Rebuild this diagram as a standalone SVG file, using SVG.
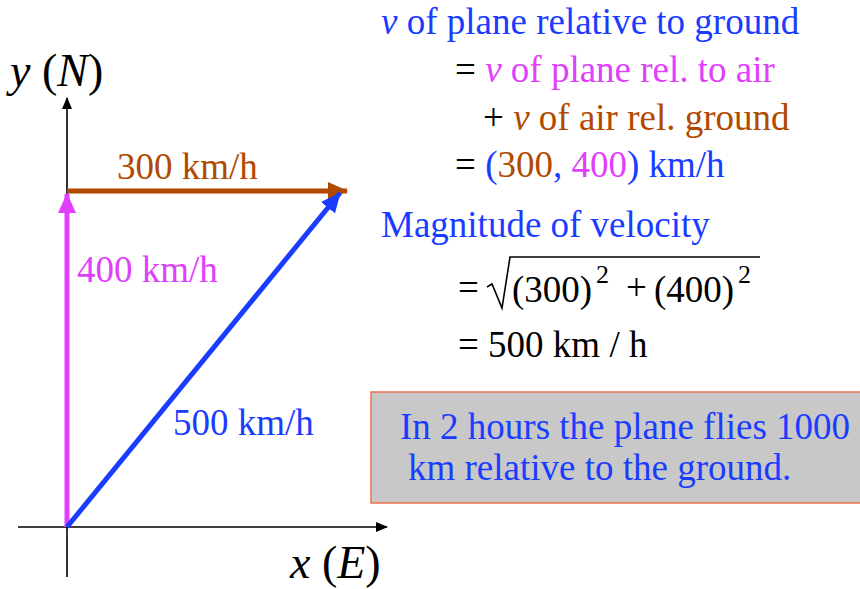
<svg xmlns="http://www.w3.org/2000/svg" width="860" height="589" viewBox="0 0 860 589">
<style>
text{font-family:"Liberation Serif","Times New Roman",serif;font-size:37px}
.blue{fill:#1a3cff}.pink{fill:#e040fb}.brown{fill:#b14a00}.blk{fill:#000}
.it{font-style:italic}
.axis{stroke:#000;stroke-width:1.6;fill:none}
.big{font-size:46px}
</style>
<defs>
<marker id="ah" markerUnits="userSpaceOnUse" markerWidth="12" markerHeight="10" refX="11" refY="5" orient="auto"><path d="M0,0 L12,5 L0,10 Z" fill="#000"/></marker>
<marker id="hp" markerUnits="userSpaceOnUse" markerWidth="20" markerHeight="20" refX="19" refY="10" orient="auto"><path d="M0,1 L20,10 L0,19 Z" fill="#e040fb"/></marker>
<marker id="hb" markerUnits="userSpaceOnUse" markerWidth="20" markerHeight="20" refX="19" refY="10" orient="auto"><path d="M0,1 L20,10 L0,19 Z" fill="#b14a00"/></marker>
<marker id="hl" markerUnits="userSpaceOnUse" markerWidth="20" markerHeight="20" refX="19" refY="10" orient="auto"><path d="M0,1 L20,10 L0,19 Z" fill="#1a3cff"/></marker>
</defs>
<g id="axes">
<line class="axis" x1="67" y1="577" x2="67" y2="98" marker-end="url(#ah)"/>
<line class="axis" x1="18" y1="527" x2="387" y2="527" marker-end="url(#ah)"/>
<text x="10" y="86" class="blk big"><tspan class="it">y</tspan> (<tspan class="it">N</tspan>)</text>
<text x="290" y="578" class="blk big"><tspan class="it">x</tspan> (<tspan class="it">E</tspan>)</text>
</g>
<g id="connectors">
<line x1="67" y1="527" x2="67" y2="194" stroke="#e040fb" stroke-width="5" marker-end="url(#hp)"/>
<line x1="67" y1="191" x2="347" y2="191" stroke="#b14a00" stroke-width="5" marker-end="url(#hb)"/>
<line x1="67" y1="527" x2="340" y2="193" stroke="#1a3cff" stroke-width="5" marker-end="url(#hl)"/>
</g>
<g id="labels">
<text x="117" y="179" class="brown">300 km/h</text>
<text x="77" y="282" class="pink">400 km/h</text>
<text x="173" y="435" class="blue">500 km/h</text>
</g>
<g id="equation">
<text x="381" y="34" class="blue"><tspan class="it">v</tspan> of plane relative to ground</text>
<text x="455" y="82"><tspan class="blk">= </tspan><tspan class="pink"><tspan class="it">v</tspan> of plane rel. to air</tspan></text>
<text x="483" y="130"><tspan class="blk">+ </tspan><tspan class="brown"><tspan class="it">v</tspan> of air rel. ground</tspan></text>
<text x="455" y="177"><tspan class="blk">= </tspan><tspan class="blue">(</tspan><tspan class="brown">300</tspan><tspan class="blue">, </tspan><tspan class="pink">400</tspan><tspan class="blue">) km/h</tspan></text>
</g>
<g id="magnitude">
<text x="381" y="237" class="blue">Magnitude of velocity</text>
<text x="458" y="300" class="blk">=</text>
<path d="M487,287 L492,284 L502,308 L510,257 L760,257" fill="none" stroke="#000" stroke-width="1.6"/>
<text x="512" y="302" class="blk">(300)</text>
<text x="596" y="283" class="blk" style="font-size:26px">2</text>
<text x="626" y="300" class="blk">+</text>
<text x="654" y="302" class="blk">(400)</text>
<text x="738" y="283" class="blk" style="font-size:26px">2</text>
<text x="458" y="357" class="blk">= 500 km / h</text>
</g>
<g id="note">
<rect x="371" y="392" width="495" height="111" fill="#c8c8c8" stroke="#f07050" stroke-width="1.5"/>
<text x="400" y="439" class="blue">In 2 hours the plane flies 1000</text>
<text x="408" y="480" class="blue">km relative to the ground.</text>
</g>
</svg>
